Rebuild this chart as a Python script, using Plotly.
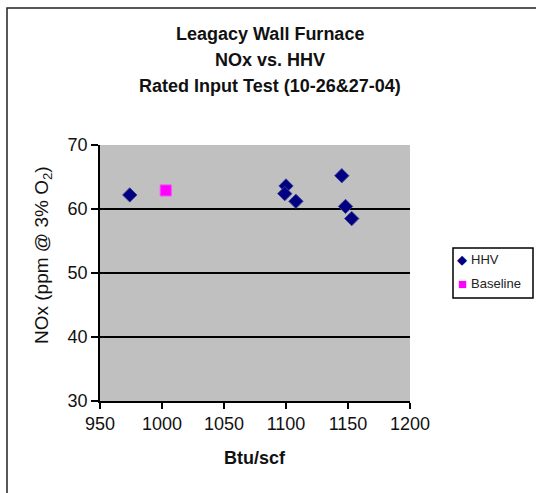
import plotly.graph_objects as go

# Higher heating value of the fuel (Btu/scf) and measured NOx (ppm @ 3% O2)
hhv_x = [974, 1100, 1099, 1108, 1145, 1148, 1153]
hhv_nox = [62.2, 63.6, 62.4, 61.2, 65.2, 60.4, 58.5]

baseline_x = [1003]
baseline_nox = [62.9]

series_names = ["HHV", "Baseline"]
series_colors = ["#000080", "#ff00ff"]
series_glyphs = ["◆", "■"]

title_lines = ["Leagacy Wall Furnace", "NOx vs. HHV", "Rated Input Test (10-26&27-04)"]
x_ticks = [950, 1000, 1050, 1100, 1150, 1200]
y_ticks = [30, 40, 50, 60, 70]
y_grid = [40, 50, 60]

W, H = 536, 493
L, R, T, B = 100, 126, 145, 92
pw, ph = W - L - R, H - T - B

FONT = "Liberation Sans, Arial, sans-serif"

fig = go.Figure()
fig.add_trace(go.Scatter(
    x=hhv_x, y=hhv_nox, mode="markers", name=series_names[0],
    marker=dict(symbol="diamond", size=11, color=series_colors[0],
                line=dict(color="#3a3a9a", width=1)),
))
fig.add_trace(go.Scatter(
    x=baseline_x, y=baseline_nox, mode="markers", name=series_names[1],
    marker=dict(symbol="square", size=11, color=series_colors[1],
                line=dict(color="#ff40ff", width=1)),
))

def px_x(p):
    return (p - L) / pw

def px_y(p):
    return (H - B - p) / ph

annotations = []
for line, yc in zip(title_lines, [34, 60, 86]):
    annotations.append(dict(
        text=f"<b>{line}</b>", xref="paper", yref="paper",
        x=px_x(270), y=px_y(yc), xanchor="center", yanchor="middle",
        showarrow=False, font=dict(family=FONT, size=18, color="#111111"),
    ))
annotations.append(dict(
    text="NOx (ppm @ 3% O<sub>2</sub>)", xref="paper", yref="paper",
    x=px_x(43), y=px_y(255), xanchor="center", yanchor="middle",
    textangle=-90, showarrow=False,
    font=dict(family=FONT, size=19, color="#111111"),
))
annotations.append(dict(
    text="<b>Btu/scf</b>", xref="paper", yref="paper",
    x=px_x(255), y=px_y(458), xanchor="center", yanchor="middle",
    showarrow=False, font=dict(family=FONT, size=18, color="#111111"),
))

# compact boxed legend on the right
for i, (name, color, glyph) in enumerate(zip(series_names, series_colors, series_glyphs)):
    yc = 259 + 24 * i
    annotations.append(dict(
        text=glyph, xref="paper", yref="paper",
        x=px_x(462), y=px_y(yc), xanchor="center", yanchor="middle",
        showarrow=False, font=dict(family=FONT, size=13 if i == 0 else 15, color=color),
    ))
    annotations.append(dict(
        text=name, xref="paper", yref="paper",
        x=px_x(469), y=px_y(yc), xanchor="left", yanchor="middle",
        showarrow=False, font=dict(family=FONT, size=13, color="#222222"),
    ))

fig.update_layout(
    width=W, height=H,
    margin=dict(l=L, r=R, t=T, b=B, pad=0),
    paper_bgcolor="white",
    plot_bgcolor="#c0c0c0",
    font=dict(family=FONT, size=18, color="#111111"),
    showlegend=False,
    annotations=annotations,
    shapes=[
        dict(type="rect", xref="paper", yref="paper",
             x0=px_x(7), x1=px_x(600), y0=px_y(560), y1=px_y(8),
             line=dict(color="#222222", width=1.5), layer="below"),
        dict(type="rect", xref="paper", yref="paper",
             x0=px_x(453), x1=px_x(533), y0=px_y(298), y1=px_y(248),
             line=dict(color="black", width=1.5), fillcolor="white", layer="below"),
    ],
)

fig.update_xaxes(
    range=[950, 1200], tickvals=x_ticks, showgrid=False, zeroline=False,
    showline=True, linecolor="black", linewidth=1.5,
    ticks="outside", ticklen=6, tickwidth=1.5, tickcolor="black",
    tickfont=dict(size=18),
)
fig.update_yaxes(
    range=[30, 70], tickvals=y_ticks, showgrid=False, zeroline=False,
    showline=True, linecolor="black", linewidth=1.5,
    ticks="outside", ticklen=7, tickwidth=1.5, tickcolor="black",
    tickfont=dict(size=18),
    minor=dict(tickvals=y_grid, showgrid=True, gridcolor="black", gridwidth=1.5, ticks=""),
)

fig.write_html("out.html")
